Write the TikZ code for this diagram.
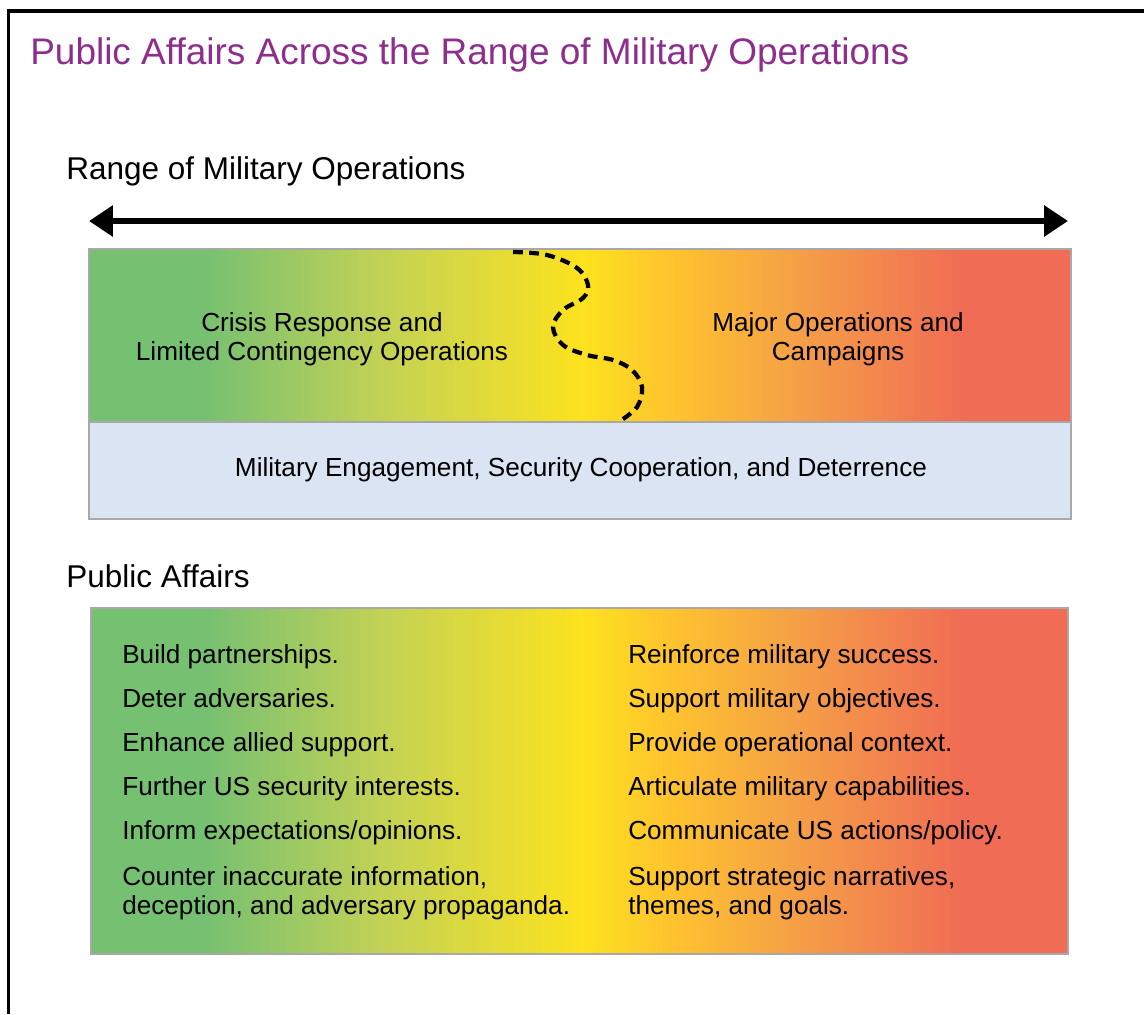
\documentclass[tikz,border=0pt]{standalone}
\usepackage{fontspec}
\setmainfont{Liberation Sans}
\usepackage{tikz}
\usetikzlibrary{arrows.meta, positioning}

\definecolor{patitle}{RGB}{142,45,142}
\definecolor{pagray}{RGB}{168,168,168}
\definecolor{pablue}{RGB}{218,228,242}
\definecolor{pagreen}{RGB}{118,192,114}
\definecolor{palime}{RGB}{195,210,85}
\definecolor{payellow}{RGB}{253,226,30}
\definecolor{pagold}{RGB}{255,199,44}
\definecolor{paorange}{RGB}{245,160,70}
\definecolor{pared}{RGB}{240,108,85}
\pgfdeclarehorizontalshading{opsrange}{100bp}{color(0bp)=(pagreen);
  color(30.8bp)=(pagreen); color(40bp)=(palime); color(50.2bp)=(payellow);
  color(54bp)=(pagold); color(61bp)=(paorange); color(69.6bp)=(pared);
  color(100bp)=(pared)}

\begin{document}
\begin{tikzpicture}[x=0.025cm, y=-0.025cm, titletext/.style={anchor=base
      west, inner sep=0pt, text=patitle,
      font=\fontsize{26.3pt}{31pt}\selectfont}, headtext/.style={anchor=base
      west, inner sep=0pt, font=\fontsize{22.4pt}{27pt}\selectfont},
      bartext/.style={anchor=base, inner sep=0pt, align=center,
      font=\fontsize{18.6pt}{20.4pt}\selectfont}, itemtext/.style={anchor=base
      west, inner sep=0pt, align=left, font=\fontsize{18.6pt}{20.2pt}\selectfont},
      band/.style={draw=pagray, line width=1pt, shading=opsrange},
      rangearrow/.style={line width=4.3pt,
      {Triangle[length=17pt,width=21.3pt]}-{Triangle[length=17pt,width=21.3pt]}},
      wave/.style={line width=3pt, dash pattern=on 7pt off 4.5pt} ]

    \useasboundingbox (0,0) rectangle (1144,1014);

    % Frame, open to the right and bottom
    \draw[line width=2.2pt] (8.7,1014) -- (8.7,11) -- (1144,11);

    % Title
    \node[titletext] (title) at (30,64) {Public Affairs Across the Range of
    Military Operations};

    % Range of military operations
    \node[headtext] (rangehead) at (66,179) {Range of Military Operations};
    \coordinate (westend) at (89,221); \coordinate (eastend) at (1068,221);
    \draw[rangearrow] (westend) -- (eastend);

    % Operations bands
    \draw[band] (89,249) rectangle (1071,422);
    \draw[draw=pagray, line width=1pt, fill=pablue] (89,422) rectangle
    (1071,519);
    \draw[wave] plot[smooth, tension=0.6] coordinates {(513,252) (547,255)
      (577,268) (588,285) (583,298) (563,310) (553,327) (563,345) (587,355)
      (613,360) (632,370) (642,387) (637,407) (620,421)};

    % multi-line nodes sit on their last baseline
    \node[bartext] (crisis) at (322,360) {Crisis Response and\\Limited
    Contingency Operations}; \node[bartext] (major) at (838,360) {Major
    Operations and\\Campaigns}; \node[bartext] (engage) at (581,476)
    {Military Engagement, Security Cooperation, and Deterrence};

    % Public affairs
    \node[headtext] (pahead) at (66,587) {Public Affairs};
    \draw[band] (91,608) rectangle (1068,954);

    % Left column
    \node[itemtext] (l1) at (122,663) {Build partnerships.};
    \node[itemtext] (l2) at (122,707) {Deter adversaries.};
    \node[itemtext] (l3) at (122,751) {Enhance allied support.};
    \node[itemtext] (l4) at (122,795) {Further US security interests.};
    \node[itemtext] (l5) at (122,839) {Inform expectations/opinions.};
    \node[itemtext] (l6) at (122,914) {Counter inaccurate information,\\
    deception, and adversary propaganda.};

    % Right column
    \node[itemtext] (r1) at (628,663) {Reinforce military success.};
    \node[itemtext] (r2) at (628,707) {Support military objectives.};
    \node[itemtext] (r3) at (628,751) {Provide operational context.};
    \node[itemtext] (r4) at (628,795) {Articulate military capabilities.};
    \node[itemtext] (r5) at (628,839) {Communicate US actions/policy.};
    \node[itemtext] (r6) at (628,914) {Support strategic narratives,\\themes,
    and goals.};

\end{tikzpicture}
\end{document}
